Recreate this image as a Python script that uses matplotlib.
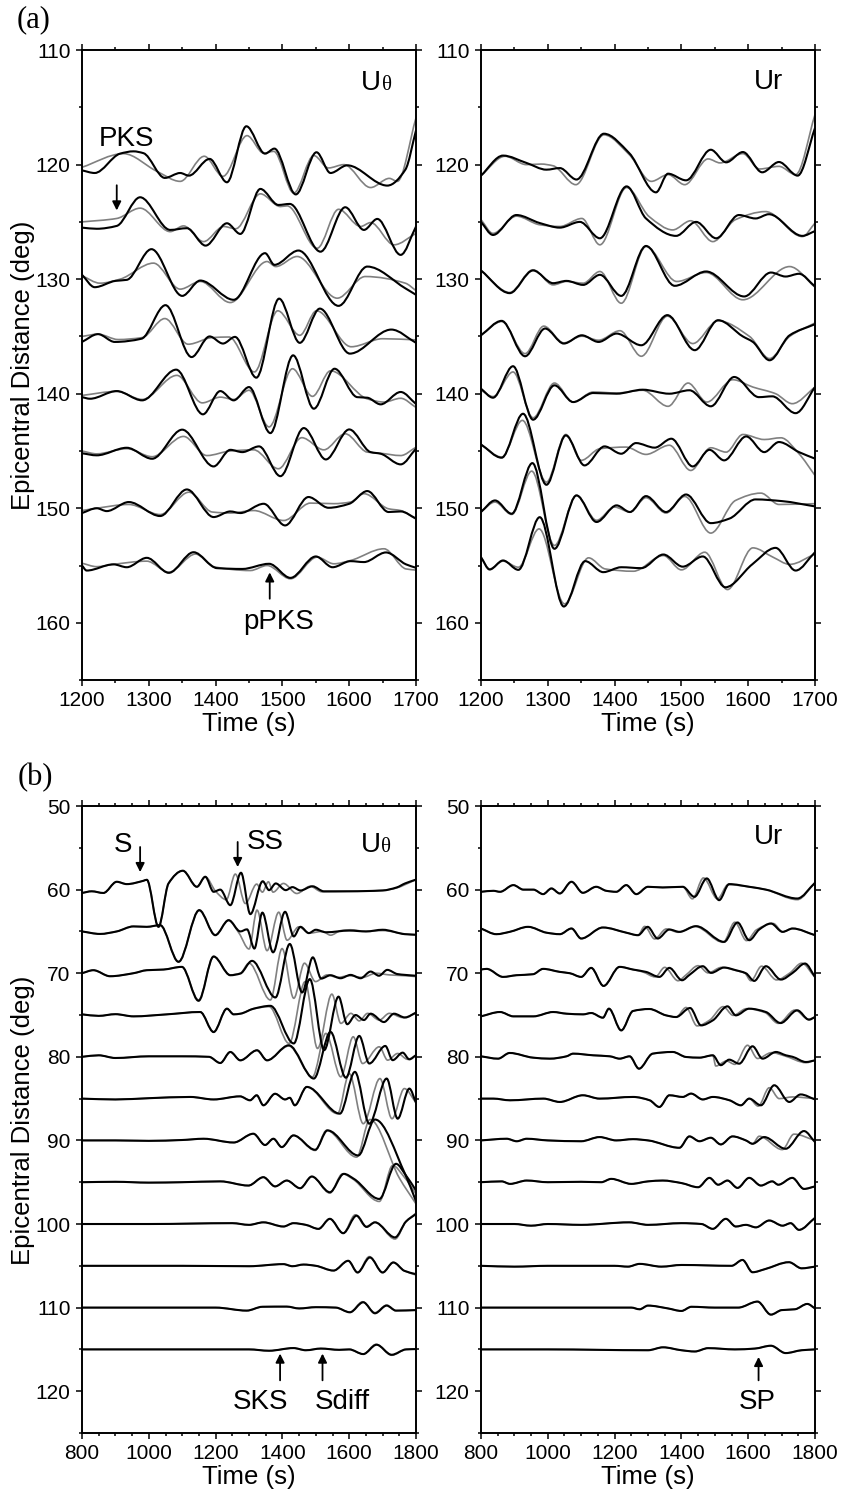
import numpy as np
import matplotlib.pyplot as plt
from matplotlib.path import Path
from matplotlib.patches import PathPatch
from matplotlib.ticker import MultipleLocator

plt.rcParams['font.family'] = ['Liberation Sans', 'DejaVu Sans']

# ================= DATA =================
# each trace: (time s, deflection in deg, upward positive) read at the wiggle extrema

# ---- (a) U theta ----
A_UT_BLACK = {
    120: [(1200, -0.5), (1219, -0.73), (1257, 0.96), (1277, 1.16), (1292, 1.0), (1324, -1.16), (1347, -0.73),
          (1360, -0.96), (1391, 0.5), (1417, -1.54), (1446, 3.35), (1474, 0.96), (1488, 1.4), (1520, -2.6),
          (1551, 1.08), (1572, -0.73), (1597, -0.06), (1657, -1.83), (1684, -0.44), (1700, 3.0)],
    125: [(1200, -0.5), (1222, -0.6), (1252, -0.35), (1287, 2.15), (1332, -0.7), (1357, -0.55), (1385, -2.07),
          (1417, -0.12), (1437, -1.05), (1467, 2.88), (1494, 1.48), (1511, 1.57), (1557, -2.6), (1594, 1.28),
          (1622, -0.7), (1642, 0.26), (1677, -2.88), (1700, -0.4)],
    130: [(1200, 0.38), (1219, -0.7), (1250, -0.15), (1267, -0.06), (1304, 2.62), (1350, -1.46), (1377, -0.12),
          (1427, -1.8), (1474, 2.27), (1488, 1.25), (1524, 2.5), (1584, -2.33), (1627, 1.1), (1684, -0.8),
          (1700, -1.37)],
    135: [(1200, -0.48), (1224, 0.2), (1249, -0.48), (1289, -0.2), (1325, 2.73), (1364, -1.8), (1391, 0.0),
          (1411, -0.62), (1429, -0.04), (1461, -3.6), (1495, 3.3), (1526, -0.56), (1556, 2.43), (1601, -1.5),
          (1663, 0.6), (1700, -0.56)],
    140: [(1200, -0.3), (1212, -0.44), (1252, 0.23), (1290, -0.58), (1341, 2.1), (1381, -1.8), (1407, 0.23),
          (1427, -0.58), (1450, 0.58), (1482, -3.44), (1516, 3.35), (1547, -1.31), (1578, 2.18), (1612, -0.3),
          (1627, -0.35), (1647, -0.93), (1677, 0.15), (1700, -0.9)],
    145: [(1200, -0.2), (1222, -0.38), (1267, 0.28), (1305, -0.68), (1350, 1.86), (1397, -1.35), (1422, 0.1),
          (1440, -0.1), (1465, 0.4), (1497, -2.2), (1532, 2.0), (1565, -0.74), (1600, 1.88), (1632, -0.1),
          (1647, -0.24), (1677, -1.17), (1700, 0.2)],
    150: [(1200, -0.42), (1222, 0.0), (1237, -0.25), (1270, 0.54), (1317, -0.68), (1357, 1.64), (1397, -0.77),
          (1422, -0.28), (1437, -0.42), (1472, 0.39), (1504, -1.5), (1539, 0.98), (1569, 0.04), (1600, 0.39),
          (1627, 1.5), (1659, -0.33), (1677, -0.28), (1700, -0.9)],
    155: [(1200, 0.0), (1207, -0.44), (1247, 0.1), (1267, -0.15), (1297, 0.67), (1330, -0.64), (1367, 1.16),
          (1402, -0.23), (1440, -0.3), (1480, 0.15), (1512, -1.08), (1550, 0.79), (1575, -0.15), (1602, 0.38),
          (1622, 0.3), (1655, 1.14), (1685, 0.1), (1700, -0.2)],
}
A_UT_GRAY = {
    120: [(1200, -0.23), (1262, 0.96), (1312, -0.58), (1347, -1.46), (1383, 0.73), (1411, -1.02), (1447, 2.53),
          (1472, 1.0), (1487, 1.16), (1517, -2.48), (1547, 0.79), (1569, -0.29), (1592, 0.0), (1632, -2.0),
          (1660, -1.2), (1672, -1.46), (1700, 4.1)],
    125: [(1200, 0.0), (1252, 0.3), (1287, 1.2), (1332, -0.85), (1352, -0.35), (1382, -1.72), (1412, -0.4),
          (1430, -0.6), (1467, 2.45), (1497, 1.34), (1507, 1.4), (1552, -2.3), (1584, 1.1), (1617, -0.4),
          (1632, -0.06), (1667, -2.0), (1700, -1.0)],
    130: [(1200, 0.3), (1227, -0.35), (1257, 0.0), (1307, 1.4), (1347, -0.87), (1377, -0.2), (1422, -2.04),
          (1477, 1.54), (1490, 1.1), (1522, 1.98), (1582, -1.66), (1624, 0.23), (1684, -0.35), (1700, -1.0)],
    135: [(1200, 0.0), (1224, 0.2), (1254, -0.27), (1290, -0.1), (1324, 1.56), (1359, -0.68), (1395, -0.1),
          (1420, -0.05), (1458, -3.1), (1493, 2.24), (1526, 0.1), (1551, 2.24), (1603, -0.9), (1650, -0.2),
          (1700, -0.3)],
    140: [(1200, -0.15), (1252, 0.2), (1290, -0.5), (1342, 1.6), (1380, -0.8), (1407, -0.3), (1427, -0.5),
          (1450, 0.3), (1480, -2.9), (1515, 2.18), (1545, -0.23), (1572, 2.0), (1627, -0.45), (1652, -0.73),
          (1677, -0.4), (1700, -1.2)],
    145: [(1200, 0.0), (1222, -0.25), (1267, 0.2), (1305, -0.5), (1352, 1.27), (1387, -0.4), (1422, 0.0),
          (1457, 0.1), (1494, -1.55), (1529, 1.16), (1562, 0.1), (1594, 1.5), (1627, -0.1), (1647, -0.2),
          (1677, -0.4), (1700, 0.33)],
    150: [(1200, -0.2), (1222, 0.0), (1270, 0.33), (1317, -0.55), (1360, 1.4), (1395, -0.33), (1422, -0.42),
          (1457, -0.2), (1502, -1.07), (1542, 0.45), (1577, 0.4), (1602, 0.54), (1622, 1.27), (1659, -0.05),
          (1677, -0.2), (1700, -0.95)],
    155: [(1200, 0.2), (1222, -0.1), (1247, 0.1), (1297, 0.38), (1330, -0.58), (1370, 1.0), (1397, -0.1),
          (1452, -0.44), (1477, 0.0), (1512, -1.16), (1552, 0.73), (1577, 0.15), (1602, 0.44), (1652, 1.46),
          (1685, -0.3), (1700, -0.4)],
}

# ---- (a) U r ----
A_UR_BLACK = {
    120: [(1200, -0.96), (1233, 0.79), (1268, 0.15), (1298, -0.44), (1318, -0.3), (1343, -1.3), (1384, 2.7),
          (1422, 1.0), (1462, -2.42), (1480, -0.79), (1507, -1.37), (1544, 1.3), (1567, 0.2), (1592, 1.1),
          (1621, -0.67), (1646, 0.23), (1674, -0.96), (1700, 3.2)],
    125: [(1200, 0.0), (1218, -1.14), (1253, 0.6), (1288, -0.1), (1318, -0.5), (1348, 0.0), (1378, -1.43),
          (1418, 3.1), (1447, 0.3), (1492, -1.22), (1522, 0.0), (1552, -1.43), (1586, 0.6), (1611, 0.3),
          (1631, 0.67), (1681, -1.22), (1700, -0.8)],
    130: [(1200, 0.76), (1243, -1.22), (1278, 0.76), (1308, -0.35), (1328, -0.15), (1353, -0.5), (1378, 0.38),
          (1410, -1.46), (1447, 2.9), (1490, -0.58), (1537, 0.67), (1594, -1.51), (1634, 0.58), (1656, 0.23),
          (1676, 0.47), (1700, -0.64)],
    135: [(1200, 0.1), (1231, 1.36), (1266, -1.73), (1296, 0.69), (1324, -0.62), (1351, 0.1), (1376, -0.48),
          (1403, 0.25), (1440, -0.77), (1479, 1.86), (1520, -1.2), (1555, 1.42), (1592, 0.0), (1607, -0.48),
          (1632, -2.08), (1662, 0.1), (1700, 1.07)],
    140: [(1200, 0.44), (1218, -0.35), (1248, 2.4), (1278, -2.27), (1310, 0.73), (1338, -0.73), (1368, 0.06),
          (1403, 0.0), (1442, 0.35), (1482, 0.0), (1512, 0.3), (1544, -1.1), (1579, 1.46), (1616, -0.3),
          (1636, -0.23), (1671, -1.7), (1700, 0.58)],
    145: [(1200, 0.57), (1231, -0.59), (1263, 3.25), (1298, -2.95), (1327, 1.36), (1355, -1.26), (1385, 0.4),
          (1410, -0.24), (1432, 0.69), (1460, 0.29), (1485, 1.07), (1517, -1.35), (1542, 0.1), (1564, -0.82),
          (1597, 1.27), (1624, -0.1), (1646, 0.78), (1676, -0.1), (1700, -0.67)],
    150: [(1200, -0.33), (1221, 0.68), (1246, -0.48), (1277, 3.94), (1310, -3.54), (1343, 1.12), (1373, -1.2),
          (1403, 0.25), (1423, -0.33), (1447, 1.06), (1477, -0.33), (1507, 1.2), (1544, -1.3), (1572, -0.9),
          (1611, 0.77), (1651, 0.62), (1700, 0.16)],
    155: [(1200, 0.73), (1213, -0.35), (1233, 0.44), (1256, -0.38), (1288, 4.22), (1324, -3.58), (1356, 0.38),
          (1383, -0.58), (1410, -0.15), (1440, -0.23), (1473, 0.96), (1502, -0.1), (1532, 0.79), (1566, -1.9),
          (1606, 0.1), (1641, 1.54), (1671, -0.44), (1700, 1.16)],
}
A_UR_GRAY = {
    120: [(1200, -0.96), (1236, 0.73), (1268, 0.0), (1290, 0.05), (1308, -0.1), (1342, -1.75), (1384, 2.6),
          (1422, 0.87), (1455, -1.46), (1480, -0.87), (1505, -1.75), (1540, 0.5), (1558, 0.15), (1592, 0.96),
          (1617, -0.38), (1646, -0.15), (1671, -0.87), (1700, 4.37)],
    125: [(1200, 0.2), (1218, -1.0), (1253, 0.5), (1288, -0.25), (1318, -0.4), (1351, 0.3), (1378, -2.0),
          (1418, 3.0), (1452, 0.45), (1487, -0.7), (1514, 0.1), (1547, -1.72), (1581, 0.2), (1626, 0.9),
          (1681, -1.28), (1700, -0.1)],
    130: [(1200, 0.76), (1243, -1.16), (1278, 0.82), (1308, -0.5), (1328, -0.2), (1353, -0.35), (1378, 0.67),
          (1410, -2.1), (1447, 2.85), (1493, -0.2), (1537, 0.58), (1592, -1.8), (1662, 1.1), (1700, -0.7)],
    135: [(1200, 0.1), (1231, 1.3), (1266, -1.5), (1294, 0.9), (1324, -0.56), (1351, 0.02), (1376, -0.33),
          (1408, 0.5), (1440, -1.73), (1479, 1.77), (1517, -0.62), (1555, 1.36), (1602, 0.0), (1632, -1.93),
          (1662, 0.0), (1700, 1.18)],
    140: [(1200, 0.3), (1218, -0.25), (1248, 1.9), (1278, -2.1), (1310, 0.93), (1338, -0.73), (1368, 0.15),
          (1403, 0.06), (1442, 0.3), (1480, -1.1), (1510, 0.93), (1538, -0.73), (1577, 1.22), (1607, 0.58),
          (1641, 0.0), (1666, -0.87), (1700, 0.58)],
    145: [(1200, 0.57), (1231, -0.53), (1262, 2.67), (1298, -2.72), (1327, 1.44), (1350, -0.82), (1378, 0.2),
          (1417, 0.34), (1447, -0.3), (1482, 0.5), (1514, -1.7), (1544, 0.28), (1567, -0.1), (1592, 1.44),
          (1624, 1.0), (1649, 1.15), (1676, -0.24), (1700, -2.14)],
    150: [(1200, -0.3), (1221, 0.54), (1246, -0.54), (1276, 3.24), (1310, -3.25), (1343, 1.12), (1373, -1.05),
          (1400, 0.1), (1423, -0.33), (1447, 0.92), (1477, -0.42), (1505, 1.03), (1544, -2.17), (1581, 0.68),
          (1619, 1.32), (1646, 0.33), (1700, 0.4)],
    155: [(1200, 0.73), (1213, -0.3), (1233, 0.38), (1256, -0.15), (1287, 3.2), (1325, -3.35), (1361, 0.67),
          (1386, -0.3), (1428, -0.5), (1473, 0.87), (1500, -0.38), (1535, 1.16), (1569, -2.1), (1607, 1.54),
          (1637, 0.73), (1662, 0.1), (1700, 1.0)],
}

# ---- (b) U theta ----
B_UT_BLACK = {
    60: [(800, -0.4), (829, -0.2), (864, -0.4), (904, 0.94), (934, 0.66), (984, 1.06), (994, 1.18),
         (1029, -4.45), (1059, 0.74), (1102, 2.26), (1144, 0.34), (1169, 1.54), (1194, -0.26), (1214, 0.0),
         (1244, -1.86), (1276, 2.02), (1304, -2.93), (1341, 1.0), (1360, -0.06), (1380, 0.74), (1410, -0.06),
         (1430, 0.3), (1454, -0.1), (1490, 0.4), (1524, -0.2), (1600, -0.2), (1700, -0.1), (1742, 0.26),
         (1767, 0.74), (1800, 1.2)],
    65: [(800, 0.0), (854, -0.3), (904, 0.0), (954, 0.6), (994, 0.55), (1034, 0.75), (1089, -3.64),
         (1151, 2.55), (1199, -0.45), (1239, 1.35), (1274, 0.0), (1294, 0.25), (1316, -2.05), (1340, 2.25),
         (1372, -2.5), (1408, 2.35), (1434, -0.6), (1454, 0.55), (1479, -0.2), (1500, 0.2), (1530, -0.1),
         (1600, 0.1), (1650, 0.0), (1700, 0.2), (1767, -0.33), (1800, -0.4)],
    70: [(800, 0.0), (834, 0.36), (884, -0.36), (954, 0.0), (994, 0.36), (1044, 0.44), (1099, 0.76),
         (1149, -3.3), (1194, 2.0), (1244, -0.24), (1274, -0.04), (1309, 1.48), (1379, -2.9), (1422, 3.5),
         (1459, -2.3), (1491, 1.9), (1516, -0.64), (1544, -0.24), (1574, -0.6), (1604, -0.2), (1634, -0.6),
         (1664, 0.2), (1689, -0.3), (1714, 0.4), (1744, -0.1), (1767, -0.2), (1800, -0.3)],
    75: [(800, 0.08), (850, -0.1), (900, 0.1), (954, -0.16), (1054, 0.08), (1154, 0.36), (1194, -2.04),
         (1234, 0.76), (1254, 0.08), (1274, 0.16), (1314, 0.76), (1364, 1.1), (1434, -3.4), (1482, 4.3),
         (1525, -4.2), (1568, 2.2), (1594, -1.1), (1619, 0.0), (1644, -0.6), (1664, 0.16), (1704, -0.84),
         (1734, 0.16), (1767, -0.3), (1800, 0.3)],
    80: [(800, 0.0), (850, 0.18), (900, -0.14), (1000, 0.06), (1100, 0.06), (1180, 0.0), (1214, -0.74),
         (1244, 0.58), (1274, -0.42), (1324, 0.78), (1354, -0.42), (1419, 1.38), (1494, -2.6), (1544, 2.98),
         (1590, -2.5), (1630, 2.5), (1660, -0.8), (1708, 1.3), (1730, -0.4), (1760, 0.5), (1780, -0.3),
         (1800, 0.2)],
    85: [(800, 0.0), (900, -0.1), (1000, 0.05), (1124, 0.2), (1194, -0.1), (1273, 0.27), (1303, -0.2),
         (1323, 0.4), (1343, -0.8), (1378, 0.58), (1408, -0.1), (1422, 0.1), (1437, -0.8), (1473, 1.4),
         (1572, -1.8), (1617, 3.2), (1660, -3.0), (1712, 2.4), (1745, -2.4), (1780, 1.2), (1800, -0.5)],
    90: [(800, 0.0), (900, 0.0), (1000, -0.05), (1100, 0.05), (1164, 0.2), (1254, -0.25), (1313, 0.8),
         (1348, -0.55), (1373, 0.2), (1398, -0.8), (1433, 0.6), (1498, -1.12), (1535, 1.2), (1627, -1.8),
         (1677, 2.5), (1767, -4.0), (1800, -7.3)],
    95: [(800, 0.0), (900, 0.05), (1000, -0.05), (1100, 0.0), (1214, 0.1), (1298, -0.4), (1343, 0.6),
         (1378, -0.5), (1413, 0.2), (1453, -0.72), (1488, 0.68), (1542, -1.2), (1584, 1.0), (1614, 0.4),
         (1690, -2.0), (1740, 2.2), (1770, 0.8), (1800, -1.0)],
    100: [(800, 0.0), (1000, 0.0), (1250, 0.1), (1300, -0.1), (1343, 0.2), (1403, -0.3), (1433, 0.1),
          (1470, -0.1), (1508, -0.58), (1542, 0.62), (1582, -1.1), (1622, 1.0), (1652, -0.35), (1677, 0.2),
          (1737, -1.6), (1770, 0.3), (1800, 1.2)],
    105: [(800, 0.0), (1100, 0.0), (1300, -0.05), (1403, 0.2), (1430, -0.05), (1463, 0.15), (1500, 0.0),
          (1553, -0.57), (1597, 0.6), (1625, -0.8), (1662, 1.0), (1700, -0.8), (1732, 0.4), (1765, -0.6),
          (1800, -1.0)],
    110: [(800, 0.0), (1200, 0.0), (1293, -0.36), (1340, 0.1), (1413, 0.12), (1450, -0.1), (1500, 0.05),
          (1560, 0.0), (1602, -0.56), (1642, 0.64), (1677, -0.68), (1712, 0.24), (1740, -0.36), (1800, -0.3)],
    115: [(800, 0.0), (1300, 0.0), (1360, -0.16), (1433, 0.16), (1470, -0.1), (1515, 0.1), (1570, -0.05),
          (1600, 0.0), (1642, -0.56), (1682, 0.56), (1727, -0.64), (1770, 0.0), (1800, 0.04)],
}
B_UT_GRAY = {
    60: [(800, -0.4), (829, -0.2), (864, -0.4), (904, 0.94), (934, 0.66), (984, 1.06), (994, 1.18),
         (1029, -4.45), (1059, 0.74), (1102, 2.26), (1144, 0.34), (1169, 1.54), (1200, -0.2), (1232, -1.2),
         (1259, 1.86), (1289, -1.66), (1323, 0.66), (1340, -0.3), (1358, 0.94), (1372, -0.3), (1403, 0.74),
         (1443, -0.46), (1483, 0.4), (1518, -0.26), (1600, -0.2), (1700, -0.1), (1742, 0.2), (1767, 0.6),
         (1800, 1.2)],
    65: [(800, 0.0), (854, -0.3), (904, 0.0), (954, 0.6), (994, 0.55), (1034, 0.75), (1089, -3.6),
         (1151, 2.5), (1199, -0.4), (1239, 1.3), (1270, -0.2), (1300, -2.1), (1324, 2.55), (1354, -2.3),
         (1389, 2.3), (1414, -1.05), (1449, 0.55), (1480, -0.2), (1520, 0.0), (1544, -0.45), (1575, 0.1),
         (1604, 0.2), (1650, 0.0), (1700, 0.1), (1767, -0.3), (1800, -0.4)],
    70: [(800, 0.0), (834, 0.36), (884, -0.36), (954, 0.0), (994, 0.36), (1044, 0.44), (1099, 0.76),
         (1149, -3.2), (1194, 2.0), (1244, -0.2), (1274, 0.0), (1300, 1.2), (1364, -3.2), (1399, 2.95),
         (1434, -3.0), (1466, 1.2), (1499, -1.0), (1534, -0.2), (1564, -0.5), (1600, -0.3), (1640, -0.5),
         (1680, 0.0), (1720, -0.2), (1767, -0.3), (1800, -0.4)],
    75: [(800, 0.08), (850, -0.1), (900, 0.1), (954, -0.16), (1054, 0.08), (1154, 0.36), (1194, -2.0),
         (1234, 0.76), (1254, 0.08), (1274, 0.16), (1314, 0.76), (1360, 1.0), (1420, -3.4), (1468, 4.0),
         (1505, -4.0), (1548, 2.5), (1575, -1.0), (1605, 0.2), (1630, -0.7), (1655, 0.2), (1690, -0.6),
         (1720, 0.2), (1760, -0.3), (1800, 0.2)],
    80: [(800, 0.0), (850, 0.18), (900, -0.14), (1000, 0.06), (1100, 0.06), (1180, 0.0), (1214, -0.74),
         (1244, 0.58), (1274, -0.42), (1324, 0.78), (1354, -0.42), (1419, 1.3), (1490, -2.4), (1530, 2.8),
         (1575, -2.4), (1612, 2.4), (1640, -0.8), (1690, 1.2), (1715, -0.4), (1745, 0.4), (1775, -0.3),
         (1800, 0.2)],
    85: [(800, 0.0), (900, -0.1), (1000, 0.05), (1124, 0.2), (1194, -0.1), (1273, 0.27), (1303, -0.2),
         (1323, 0.4), (1343, -0.8), (1378, 0.58), (1408, -0.1), (1422, 0.1), (1437, -0.8), (1473, 1.4),
         (1565, -1.8), (1600, 3.0), (1642, -3.0), (1692, 2.4), (1728, -2.4), (1765, 1.2), (1800, -0.5)],
    90: [(800, 0.0), (900, 0.0), (1000, -0.05), (1100, 0.05), (1164, 0.2), (1254, -0.25), (1313, 0.8),
         (1348, -0.55), (1373, 0.2), (1398, -0.8), (1433, 0.6), (1498, -1.2), (1532, 1.2), (1622, -2.0),
         (1662, 2.5), (1750, -4.5), (1800, -7.6)],
    95: [(800, 0.0), (900, 0.05), (1000, -0.05), (1100, 0.0), (1214, 0.1), (1298, -0.4), (1343, 0.6),
         (1378, -0.5), (1413, 0.2), (1453, -0.72), (1488, 0.68), (1542, -1.3), (1580, 1.0), (1610, 0.4),
         (1690, -2.3), (1730, 2.0), (1765, 0.6), (1800, -1.4)],
    100: [(800, 0.0), (1000, 0.0), (1250, 0.1), (1300, -0.1), (1343, 0.2), (1403, -0.3), (1433, 0.1),
          (1470, -0.1), (1508, -0.58), (1542, 0.62), (1582, -1.1), (1618, 1.1), (1650, -0.3), (1677, 0.2),
          (1737, -1.8), (1770, 0.3), (1800, 1.3)],
    105: [(800, 0.0), (1100, 0.0), (1300, -0.05), (1403, 0.2), (1430, -0.05), (1463, 0.15), (1500, 0.0),
          (1553, -0.57), (1597, 0.6), (1625, -0.8), (1660, 1.1), (1700, -0.8), (1732, 0.4), (1765, -0.6),
          (1800, -1.1)],
    110: [(800, 0.0), (1200, 0.0), (1293, -0.36), (1340, 0.1), (1413, 0.12), (1450, -0.1), (1500, 0.05),
          (1560, 0.0), (1602, -0.56), (1640, 0.7), (1677, -0.6), (1712, 0.3), (1740, -0.36), (1800, -0.3)],
    115: [(800, 0.0), (1300, 0.0), (1360, -0.16), (1433, 0.16), (1470, -0.1), (1515, 0.1), (1570, -0.05),
          (1600, 0.0), (1642, -0.56), (1680, 0.6), (1727, -0.7), (1770, 0.0), (1800, 0.04)],
}

# ---- (b) U r ----
B_UR_BLACK = {
    60: [(800, -0.26), (837, -0.14), (857, -0.26), (897, 0.54), (927, 0.0), (957, 0.0), (986, -0.54),
         (1011, 0.14), (1036, -0.46), (1071, 0.94), (1105, -0.38), (1145, 0.34), (1175, -0.14), (1205, -0.26),
         (1235, 0.54), (1265, -0.54), (1300, 0.34), (1344, 0.26), (1404, 0.34), (1439, -0.86), (1476, 1.34),
         (1513, -1.26), (1543, 0.66), (1603, 0.34), (1653, 0.0), (1747, -1.06), (1800, 0.82)],
    65: [(800, 0.35), (846, -0.33), (886, -0.05), (941, 0.55), (996, -0.15), (1036, -0.33), (1071, 0.35),
         (1100, -0.85), (1165, 0.47), (1235, -0.15), (1270, -0.45), (1299, 0.55), (1329, -0.85), (1364, 0.23),
         (1394, -0.05), (1444, 0.63), (1528, -1.25), (1568, 1.07), (1603, -1.05), (1633, 0.23), (1668, 0.95),
         (1703, -0.05), (1733, 0.35), (1800, -0.45)],
    70: [(800, 0.44), (817, 0.52), (866, -0.44), (906, -0.24), (956, -0.12), (986, 0.52), (1036, 0.16),
         (1066, 0.0), (1100, -0.44), (1130, 0.64), (1167, -1.52), (1215, 0.76), (1255, 0.44), (1294, 0.16),
         (1334, -0.44), (1364, 0.64), (1402, -0.84), (1424, -0.2), (1464, 0.84), (1489, 0.04), (1528, 0.68),
         (1563, 0.36), (1593, 0.0), (1618, -0.92), (1653, 0.84), (1698, -0.76), (1733, 0.04), (1770, 1.16),
         (1800, -0.44)],
    75: [(800, -0.16), (857, 0.36), (897, -0.16), (957, -0.16), (1016, 0.36), (1056, 0.16), (1106, 0.08),
         (1130, 0.24), (1165, -0.32), (1183, 0.76), (1220, -1.84), (1255, 0.48), (1304, 0.72), (1354, -0.04),
         (1384, -0.24), (1426, 0.84), (1459, -1.24), (1494, -0.64), (1538, 1.04), (1563, -0.04), (1603, 0.76),
         (1653, 0.36), (1697, -0.96), (1747, 0.56), (1782, -0.56), (1800, -0.24)],
    80: [(800, 0.06), (851, -0.22), (886, 0.46), (956, -0.1), (1006, -0.22), (1056, 0.06), (1076, 0.38),
         (1136, 0.18), (1186, 0.06), (1215, -0.22), (1245, 0.06), (1273, -1.42), (1314, 0.38), (1374, 0.58),
         (1414, -0.02), (1454, -0.1), (1494, 0.18), (1518, -1.0), (1543, -0.34), (1573, -0.82), (1613, 1.26),
         (1643, -0.22), (1683, 0.58), (1713, 0.18), (1733, 0.0), (1773, -0.62), (1800, -0.42)],
    85: [(800, 0.0), (837, 0.0), (887, -0.2), (987, 0.0), (1036, -0.4), (1105, 0.4), (1155, 0.0), (1255, 0.2),
         (1305, -0.2), (1334, -1.0), (1364, 0.4), (1404, 0.2), (1429, 0.6), (1464, -0.1), (1494, 0.2),
         (1544, -0.2), (1578, -0.8), (1603, 0.0), (1638, -0.8), (1678, 1.6), (1723, -0.4), (1757, 0.5),
         (1800, -0.1)],
    90: [(800, 0.0), (877, 0.2), (907, -0.1), (937, 0.2), (1000, 0.0), (1100, -0.1), (1155, 0.4), (1205, 0.0),
         (1255, 0.15), (1300, 0.0), (1394, -0.88), (1424, 0.48), (1454, -0.1), (1488, 0.32), (1518, -0.48),
         (1553, 0.48), (1593, 0.0), (1613, -0.4), (1648, 0.4), (1712, -1.0), (1767, 1.12), (1800, -0.2)],
    95: [(800, 0.0), (862, 0.1), (887, -0.2), (937, 0.2), (1000, 0.0), (1100, 0.05), (1160, 0.0), (1190, 0.4),
         (1250, -0.2), (1300, 0.1), (1344, 0.2), (1400, -0.1), (1450, -0.6), (1484, 0.52), (1510, -0.3),
         (1538, 0.2), (1568, -0.68), (1603, 0.52), (1638, -0.4), (1672, 0.1), (1690, -0.3), (1732, 0.52),
         (1767, -0.8), (1800, -0.5)],
    100: [(800, 0.0), (900, 0.0), (950, -0.2), (1000, 0.0), (1100, -0.1), (1244, 0.2), (1300, -0.1),
          (1400, 0.1), (1460, 0.0), (1494, -0.58), (1533, 0.62), (1563, -0.3), (1593, -0.1), (1623, -0.4),
          (1663, 0.42), (1703, -0.2), (1727, 0.1), (1752, -0.7), (1800, 0.74)],
    105: [(800, 0.0), (900, -0.1), (1000, 0.0), (1200, 0.0), (1240, -0.1), (1275, 0.23), (1340, -0.1),
          (1400, 0.1), (1550, 0.0), (1583, 0.7), (1613, -0.77), (1650, -0.4), (1722, 0.43), (1760, -0.3),
          (1800, -0.1)],
    110: [(800, 0.0), (1000, 0.0), (1250, 0.0), (1275, -0.2), (1300, 0.24), (1360, -0.1), (1400, -0.4),
          (1430, 0.1), (1500, 0.0), (1570, 0.0), (1628, 0.72), (1668, -0.84), (1700, -0.3), (1740, -0.2),
          (1777, 0.44), (1800, -0.1)],
    115: [(800, 0.0), (1000, 0.0), (1300, -0.1), (1345, 0.25), (1400, -0.1), (1440, -0.25), (1480, 0.15),
          (1560, 0.0), (1620, 0.1), (1668, 0.44), (1712, -0.44), (1760, -0.1), (1800, 0.0)],
}
B_UR_GRAY = {k: list(v) for k, v in B_UR_BLACK.items()}
B_UR_GRAY[60] = B_UR_BLACK[60][:19] + [(1433, -1.1), (1466, 1.4), (1508, -1.1), (1540, 0.6), (1603, 0.34),
                                       (1653, 0.0), (1747, -1.2), (1800, 0.82)]
B_UR_GRAY[65] = B_UR_BLACK[65][:11] + [(1290, 0.6), (1320, -0.9), (1355, 0.3), (1390, -0.1), (1440, 0.6),
                                       (1525, -1.3), (1560, 1.1), (1595, -1.1), (1625, 0.2), (1675, 0.95),
                                       (1703, -0.05), (1733, 0.35), (1800, -0.45)]
B_UR_GRAY[70] = B_UR_BLACK[70][:13] + [(1284, 0.16), (1322, -0.44), (1350, 0.7), (1390, -0.9), (1414, -0.2),
                                       (1450, 0.9), (1480, 0.04), (1520, 0.7), (1560, 0.36), (1590, 0.0),
                                       (1608, -0.9), (1640, 0.84), (1685, -0.8), (1725, 0.04), (1760, 1.2),
                                       (1800, -0.5)]
B_UR_GRAY[75] = B_UR_BLACK[75][:15] + [(1414, 0.9), (1447, -1.3), (1485, -0.6), (1525, 1.0), (1555, -0.04),
                                       (1595, 0.76), (1650, 0.3), (1690, -1.0), (1740, 0.6), (1780, -0.5),
                                       (1800, -0.24)]
B_UR_GRAY[80] = B_UR_BLACK[80][:17] + [(1503, -1.1), (1535, -0.5), (1560, -0.9), (1598, 1.38), (1628, -0.2),
                                       (1670, 0.5), (1710, 0.1), (1773, -0.7), (1800, -0.42)]
B_UR_GRAY[85] = B_UR_BLACK[85][:18] + [(1630, -0.9), (1663, 1.3), (1693, 0.0), (1733, 0.2), (1800, 0.0)]
B_UR_GRAY[90] = B_UR_BLACK[90][:18] + [(1633, 0.5), (1702, -1.1), (1737, 0.75), (1800, 0.0)]

BASES_A = [120, 125, 130, 135, 140, 145, 150, 155]
BASES_B = [60, 65, 70, 75, 80, 85, 90, 95, 100, 105, 110, 115]


# ================= DRAW =================

def trace_path(pts, base):
    # smooth curve through the read points (monotone cubic handles)
    t = np.array([p[0] for p in pts], float)
    v = base - np.array([p[1] for p in pts], float)
    h = np.diff(t)
    d = np.diff(v) / h
    m = np.zeros_like(v)
    m[0] = d[0]
    m[-1] = d[-1]
    for i in range(1, len(v) - 1):
        if d[i - 1] * d[i] <= 0:
            m[i] = 0.0
        else:
            w1 = 2 * h[i] + h[i - 1]
            w2 = h[i] + 2 * h[i - 1]
            m[i] = (w1 + w2) / (w1 / d[i - 1] + w2 / d[i])
    verts = [(t[0], v[0])]
    codes = [Path.MOVETO]
    for i in range(len(h)):
        verts += [(t[i] + h[i] / 3, v[i] + m[i] * h[i] / 3),
                  (t[i + 1] - h[i] / 3, v[i + 1] - m[i + 1] * h[i] / 3),
                  (t[i + 1], v[i + 1])]
        codes += [Path.CURVE4] * 3
    return Path(verts, codes)


def draw_traces(ax, gray, black, bases):
    for b in bases:
        ax.add_patch(PathPatch(trace_path(gray[b], b), fc='none', ec='#808080', lw=1.2,
                               capstyle='round', joinstyle='round'))
    for b in bases:
        ax.add_patch(PathPatch(trace_path(black[b], b), fc='none', ec='black', lw=1.5,
                               capstyle='round', joinstyle='round'))


def style_axes(ax, xlim, ylim, xmaj, xmin, yticks):
    ax.set_xlim(*xlim)
    ax.set_ylim(*ylim)
    ax.xaxis.set_major_locator(MultipleLocator(xmaj))
    ax.xaxis.set_minor_locator(MultipleLocator(xmin))
    ax.set_yticks(yticks)
    ax.yaxis.set_minor_locator(MultipleLocator(5))
    ax.tick_params(which='both', direction='out', top=True, right=True, labelsize=15, width=1.1)
    ax.tick_params(which='major', length=4.2, pad=4)
    ax.tick_params(which='minor', length=2.2)
    for s in ax.spines.values():
        s.set_linewidth(1.4)
    ax.set_xlabel("Time (s)", fontsize=18.5, labelpad=1)


def arrow(ax, x, y_tail, y_tip):
    ax.annotate("", xy=(x, y_tip), xytext=(x, y_tail),
                arrowprops=dict(arrowstyle='-|>', color='black', lw=1.3, mutation_scale=13,
                                shrinkA=0, shrinkB=0))


def u_theta(ax, x, y):
    ax.text(x, y, "U", fontsize=20, ha='right', va='baseline')
    ax.text(x + 2, y, "θ", fontsize=15, ha='left', va='baseline', family='Liberation Serif')


fig = plt.figure(figsize=(8.41, 14.91), dpi=100)

W = 0.3972
axA1 = fig.add_axes([0.0975, 0.5439, W, 0.4225])
axA2 = fig.add_axes([0.5719, 0.5439, W, 0.4225])
axB1 = fig.add_axes([0.0975, 0.0389, W, 0.4205])
axB2 = fig.add_axes([0.5719, 0.0389, W, 0.4205])

draw_traces(axA1, A_UT_GRAY, A_UT_BLACK, BASES_A)
draw_traces(axA2, A_UR_GRAY, A_UR_BLACK, BASES_A)
draw_traces(axB1, B_UT_GRAY, B_UT_BLACK, BASES_B)
draw_traces(axB2, B_UR_GRAY, B_UR_BLACK, BASES_B)

for ax in (axA1, axA2):
    style_axes(ax, (1200, 1700), (165, 110), 100, 50, [110, 120, 130, 140, 150, 160])
for ax in (axB1, axB2):
    style_axes(ax, (800, 1800), (125, 50), 200, 50, [50, 60, 70, 80, 90, 100, 110, 120])

# labels (a)
u_theta(axA1, 1647, 113.5)
axA2.text(1609, 113.4, "Ur", fontsize=20, ha='left', va='baseline')
axA1.text(1225, 118.4, "PKS", fontsize=20, ha='left', va='baseline')
arrow(axA1, 1252, 121.8, 124.0)
axA1.text(1442, 160.5, "pPKS", fontsize=20, ha='left', va='baseline')
arrow(axA1, 1481, 157.9, 155.6)

# labels (b)
u_theta(axB1, 1694, 55.5)
axB2.text(1618, 54.6, "Ur", fontsize=20, ha='left', va='baseline')
axB1.text(894, 55.5, "S", fontsize=20, ha='left', va='baseline')
arrow(axB1, 974, 54.9, 57.9)
axB1.text(1294, 55.1, "SS", fontsize=20, ha='left', va='baseline')
arrow(axB1, 1266, 54.3, 57.3)
axB1.text(1251, 122.1, "SKS", fontsize=20, ha='left', va='baseline')
arrow(axB1, 1393, 118.7, 115.5)
axB1.text(1498, 122.1, "Sdiff", fontsize=20, ha='left', va='baseline')
arrow(axB1, 1520, 118.7, 115.5)
axB2.text(1573, 122.1, "SP", fontsize=20, ha='left', va='baseline')
arrow(axB2, 1631, 118.7, 115.9)

fig.text(23 / 841, 1 - 365 / 1491, "Epicentral Distance (deg)", rotation=90, fontsize=18.5,
         ha='center', va='center')
fig.text(23 / 841, 1 - 1120 / 1491, "Epicentral Distance (deg)", rotation=90, fontsize=18.5,
         ha='center', va='center')

fig.text(0.040, 1 - 20 / 1491, "(a)", fontsize=22, family='Liberation Serif', ha='center', va='center')
fig.text(0.0416, 1 - 778 / 1491, "(b)", fontsize=22, family='Liberation Serif', ha='center', va='center')

fig.savefig("out.png", dpi=100)
